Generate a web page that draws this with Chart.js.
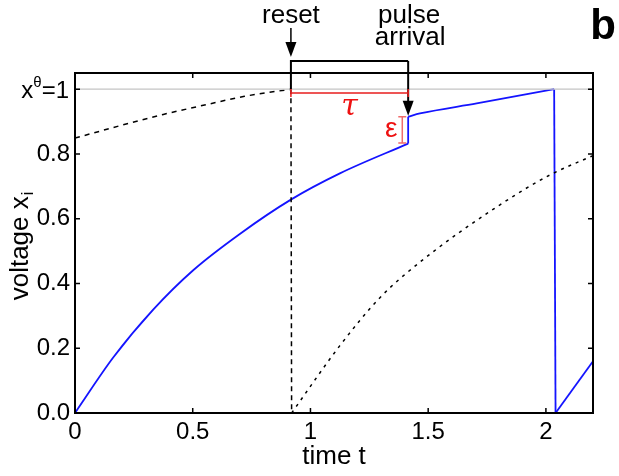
<!DOCTYPE html>
<html>
<head>
<meta charset="utf-8">
<script src="https://cdn.jsdelivr.net/npm/chart.js@4.4.1/dist/chart.umd.min.js"></script>
<style>
  html, body { margin: 0; padding: 0; background: #fff; }
  canvas { display: block; }
</style>
</head>
<body>
<canvas id="chart" width="619" height="476"></canvas>
<script>
// values: [time t, voltage x]
const blueRise1 = [[0, 0], [0.163, 0.172], [0.333, 0.320], [0.502, 0.441], [0.70, 0.553], [0.917, 0.659], [1.125, 0.740], [1.415, 0.832]];
const blueJump = [[1.415, 0.832], [1.415, 0.915]];
const blueRise2 = [[1.415, 0.915], [1.465, 0.925], [1.706, 0.956], [2.035, 1.0]];
const blueDrop = [[2.035, 1.0], [2.041, 0]];
const blueRise3 = [[2.041, 0], [2.2, 0.16]];

const dashRise1 = [[0, 0.849], [0.2, 0.889], [0.375, 0.922], [0.55, 0.951], [0.72, 0.978], [0.917, 1.0]];
const dashReset = [[0.917, 1.0], [0.92, 0]];
const dashRise2 = [[0.92, 0], [1.125, 0.208], [1.295, 0.356], [1.465, 0.466], [1.805, 0.643], [2.017, 0.735], [2.2, 0.795]];

const threshold = [[0, 1], [2.2, 1]];

const xTicks = [0, 0.5, 1, 1.5, 2];
const xTickLabels = ['0', '0.5', '1', '1.5', '2'];
const yTicks = [0, 0.2, 0.4, 0.6, 0.8, 1];
const yTickLabels = ['0.0', '0.2', '0.4', '0.6', '0.8', ''];

const resetTime = 0.917;
const pulseTime = 1.415;
const tauLevel = 0.988;
const epsTime = 1.39;
const epsRange = [0.834, 0.915];

const FONT = "'Liberation Sans', Arial, Helvetica, sans-serif";

const toPoints = arr => arr.map(([x, y]) => ({ x, y }));

function line(data, color, width, dash, smooth) {
    return {
        data: toPoints(data),
        showLine: true,
        borderColor: color,
        borderWidth: width,
        borderDash: dash || [],
        pointRadius: 0,
        fill: false,
        cubicInterpolationMode: smooth ? 'monotone' : 'default',
        tension: 0
    };
}

function arrowDown(ctx, x, y0, tip) {
    ctx.beginPath();
    ctx.moveTo(x, y0);
    ctx.lineTo(x, tip - 10);
    ctx.stroke();
    ctx.beginPath();
    ctx.moveTo(x - 5.5, tip - 15);
    ctx.lineTo(x + 5.5, tip - 15);
    ctx.lineTo(x, tip);
    ctx.closePath();
    ctx.fill();
}

// frame, inward ticks, annotations and titles
const decorations = {
    id: 'decorations',
    afterDraw(chart) {
        const ctx = chart.ctx;
        const xs = chart.scales.x;
        const ys = chart.scales.y;
        const a = chart.chartArea;
        ctx.save();

        ctx.strokeStyle = '#000';
        ctx.lineWidth = 2;
        ctx.strokeRect(a.left, a.top, a.right - a.left, a.bottom - a.top);

        ctx.lineWidth = 1.5;
        ctx.beginPath();
        xTicks.forEach(v => {
            const px = xs.getPixelForValue(v);
            ctx.moveTo(px, a.bottom); ctx.lineTo(px, a.bottom - 5);
            ctx.moveTo(px, a.top); ctx.lineTo(px, a.top + 5);
        });
        yTicks.forEach(v => {
            const py = ys.getPixelForValue(v);
            ctx.moveTo(a.left, py); ctx.lineTo(a.left + 5, py);
            ctx.moveTo(a.right, py); ctx.lineTo(a.right - 5, py);
        });
        ctx.stroke();

        // x^θ=1 tick label
        const y1 = ys.getPixelForValue(1);
        ctx.fillStyle = '#000';
        ctx.textBaseline = 'alphabetic';
        ctx.textAlign = 'left';
        ctx.font = '24px ' + FONT;
        const wx = ctx.measureText('x').width;
        const wEq = ctx.measureText('=1').width;
        ctx.font = '15px ' + FONT;
        const wTh = ctx.measureText('θ').width;
        let sx = 69 - wEq - wTh - wx;
        ctx.font = '24px ' + FONT;
        ctx.fillText('x', sx, y1 + 9);
        ctx.font = '15px ' + FONT;
        ctx.fillText('θ', sx + wx, y1 - 2);
        ctx.font = '24px ' + FONT;
        ctx.fillText('=1', sx + wx + wTh, y1 + 9);

        // bracket from reset to pulse arrival
        const xr = xs.getPixelForValue(resetTime);
        const xp = xs.getPixelForValue(pulseTime);
        ctx.lineWidth = 2;
        ctx.beginPath();
        ctx.moveTo(xr, y1);
        ctx.lineTo(xr, 61);
        ctx.lineTo(xp, 61);
        ctx.stroke();
        arrowDown(ctx, xp, 61, ys.getPixelForValue(epsRange[1]) - 1);
        ctx.lineWidth = 1.5;
        arrowDown(ctx, xr, 28, 57);

        // tau bar
        const yt = ys.getPixelForValue(tauLevel);
        ctx.strokeStyle = '#e81e1e';
        ctx.lineWidth = 1.5;
        ctx.beginPath();
        ctx.moveTo(xr, yt); ctx.lineTo(xp, yt);
        ctx.moveTo(xr, yt - 4); ctx.lineTo(xr, yt + 4);
        ctx.moveTo(xp, yt - 4); ctx.lineTo(xp, yt + 4);
        ctx.stroke();

        // epsilon bar
        const xe = xs.getPixelForValue(epsTime);
        const ye0 = ys.getPixelForValue(epsRange[0]);
        const ye1 = ys.getPixelForValue(epsRange[1]);
        ctx.strokeStyle = '#f06a6a';
        ctx.beginPath();
        ctx.moveTo(xe, ye0); ctx.lineTo(xe, ye1);
        ctx.moveTo(xe - 4, ye0); ctx.lineTo(xe + 4, ye0);
        ctx.moveTo(xe - 4, ye1); ctx.lineTo(xe + 4, ye1);
        ctx.stroke();

        ctx.fillStyle = '#ee1111';
        ctx.textAlign = 'center';
        ctx.font = "italic 30px 'DejaVu Serif', serif";
        ctx.fillText('τ', (xr + xp) / 2, 115);
        ctx.font = '28px ' + FONT;
        ctx.fillText('ε', xe - 11, 137);

        // top labels
        ctx.fillStyle = '#000';
        ctx.font = '26px ' + FONT;
        ctx.fillText('reset', xr, 23);
        ctx.fillText('pulse', xp + 1, 23);
        ctx.fillText('arrival', xp + 2, 45);
        ctx.font = 'bold 42px ' + FONT;
        ctx.fillText('b', 603, 39);

        // axis titles
        ctx.font = '26px ' + FONT;
        ctx.fillText('time t', (a.left + a.right) / 2, 464);

        ctx.translate(28, 246);
        ctx.rotate(-Math.PI / 2);
        ctx.textAlign = 'left';
        const wv = ctx.measureText('voltage x').width;
        ctx.font = '16px ' + FONT;
        const wi = ctx.measureText('i').width;
        const start = -(wv + wi + 1) / 2;
        ctx.font = '26px ' + FONT;
        ctx.fillText('voltage x', start, 0);
        ctx.font = '16px ' + FONT;
        ctx.fillText('i', start + wv + 1, 5);

        ctx.restore();
    }
};

new Chart(document.getElementById('chart'), {
    type: 'scatter',
    data: {
        datasets: [
            line(threshold, '#c4c4c4', 1.2),
            line(dashRise1, '#000', 1.5, [5, 5], true),
            line(dashReset, '#000', 1.5, [5, 4]),
            line(dashRise2, '#000', 1.5, [3, 5], true),
            line(blueRise1, '#1414ff', 1.8, null, true),
            line(blueJump, '#1414ff', 1.8),
            line(blueRise2, '#1414ff', 1.8, null, true),
            line(blueDrop, '#1414ff', 1.8),
            line(blueRise3, '#1414ff', 1.8)
        ]
    },
    options: {
        responsive: false,
        animation: false,
        layout: { padding: { top: 73, right: 26, left: 0, bottom: 0 } },
        plugins: {
            legend: { display: false },
            tooltip: { enabled: false }
        },
        scales: {
            x: {
                type: 'linear',
                min: 0,
                max: 2.2,
                afterFit: s => { s.height = 63; },
                afterBuildTicks: s => { s.ticks = xTicks.map(v => ({ value: v })); },
                grid: { display: false, drawTicks: false },
                border: { display: false },
                ticks: {
                    padding: 5,
                    color: '#000',
                    font: { family: FONT, size: 24 },
                    maxRotation: 0,
                    callback: v => xTickLabels[xTicks.indexOf(v)]
                }
            },
            y: {
                type: 'linear',
                min: 0,
                max: 1.05,
                afterFit: s => { s.width = 75; },
                afterBuildTicks: s => { s.ticks = yTicks.map(v => ({ value: v })); },
                grid: { display: false, drawTicks: false },
                border: { display: false },
                ticks: {
                    padding: 5,
                    color: '#000',
                    font: { family: FONT, size: 24 },
                    callback: v => yTickLabels[yTicks.indexOf(v)]
                }
            }
        }
    },
    plugins: [decorations]
});
</script>
</body>
</html>
